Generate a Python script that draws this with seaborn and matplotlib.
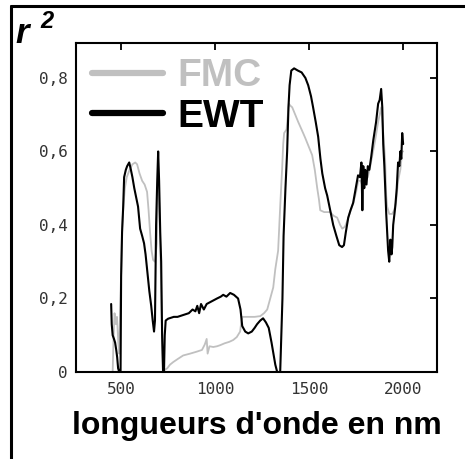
import matplotlib
matplotlib.use("Agg")
import matplotlib.pyplot as plt
from matplotlib.lines import Line2D
import seaborn as sns

# wavelength (nm) and r2 for each series
ewt_nm = [447, 450, 455, 462, 468, 474, 479, 484, 490, 497, 500, 505, 511, 516, 525,
          532, 543, 552, 560, 570, 578, 590, 601, 612, 622, 630, 640, 650, 660, 668,
          675, 680, 686, 692, 697, 702, 708, 713, 718, 723, 728, 732, 737, 750, 780,
          800, 830, 860, 880, 895, 905, 915, 925, 940, 955, 973, 990, 1010, 1030, 1043,
          1060, 1080, 1100, 1122, 1135, 1144, 1160, 1176, 1195, 1210, 1223, 1240, 1255,
          1270, 1285, 1300, 1310, 1320, 1330, 1340, 1346, 1352, 1358, 1364, 1374, 1383,
          1390, 1396, 1405, 1420, 1440, 1460, 1480, 1495, 1510, 1521, 1535, 1548, 1560,
          1570, 1585, 1596, 1612, 1628, 1645, 1660, 1675, 1685, 1695, 1708, 1720, 1734,
          1748, 1760, 1770, 1778, 1783, 1788, 1793, 1798, 1805, 1812, 1820, 1830, 1841,
          1856, 1867, 1875, 1883, 1889, 1894, 1900, 1910, 1915, 1920, 1926, 1932, 1938,
          1942, 1947, 1958, 1966, 1973, 1980, 1985, 1990, 1995, 2000]
ewt_r2 = [0.185, 0.13, 0.10, 0.09, 0.08, 0.06, 0.04, 0.01, 0.0, 0.0, 0.26, 0.38, 0.45, 0.53, 0.55,
          0.56, 0.57, 0.55, 0.53, 0.50, 0.48, 0.45, 0.39, 0.37, 0.35, 0.32, 0.27, 0.22, 0.18, 0.14,
          0.11, 0.14, 0.40, 0.52, 0.60, 0.52, 0.38, 0.30, 0.10, 0.0, 0.0, 0.10, 0.14, 0.145, 0.15,
          0.15, 0.155, 0.16, 0.17, 0.165, 0.18, 0.16, 0.185, 0.17, 0.185, 0.19, 0.195, 0.20, 0.205, 0.21,
          0.205, 0.215, 0.21, 0.20, 0.17, 0.125, 0.11, 0.105, 0.11, 0.12, 0.13, 0.14, 0.146,
          0.135, 0.12, 0.08, 0.05, 0.02, 0.0, 0.0, 0.0, 0.10, 0.20, 0.37, 0.50, 0.60,
          0.72, 0.78, 0.82, 0.826, 0.82, 0.815, 0.80, 0.78, 0.75, 0.72, 0.68, 0.64, 0.58,
          0.54, 0.50, 0.48, 0.44, 0.40, 0.37, 0.345, 0.34, 0.345, 0.38, 0.42, 0.44, 0.46,
          0.50, 0.535, 0.53, 0.57, 0.44, 0.56, 0.50, 0.55, 0.51, 0.56, 0.55, 0.585, 0.63,
          0.68, 0.73, 0.74, 0.77, 0.72, 0.62, 0.56, 0.43, 0.38, 0.33, 0.30, 0.36, 0.32,
          0.34, 0.40, 0.45, 0.50, 0.57, 0.56, 0.60, 0.58, 0.65, 0.62]

fmc_nm = [447, 455, 460, 465, 472, 478, 485, 490, 496, 502, 505, 512, 520, 530, 545,
          560, 575, 585, 598, 612, 625, 638, 646, 654, 662, 670, 680, 690, 697, 703,
          710, 718, 723, 730, 745, 760, 777, 800, 830, 867, 900, 930, 945, 955, 960,
          970, 990, 1010, 1027, 1050, 1075, 1096, 1115, 1133, 1140, 1146, 1180, 1210, 1240,
          1260, 1277, 1293, 1309, 1320, 1335, 1346, 1356, 1362, 1367, 1380, 1392, 1399,
          1410, 1426, 1442, 1468, 1479, 1516, 1530, 1543, 1552, 1559, 1580, 1612, 1630,
          1649, 1665, 1676, 1690, 1702, 1718, 1735, 1750, 1761, 1775, 1787, 1800, 1812,
          1825, 1840, 1851, 1867, 1883, 1894, 1904, 1910, 1915, 1926, 1942, 1952, 1962,
          1973, 1985, 1995, 2000]
fmc_r2 = [0.0, 0.0, 0.10, 0.16, 0.13, 0.15, 0.08, 0.05, 0.20, 0.30, 0.39, 0.45, 0.50, 0.53, 0.55,
          0.565, 0.57, 0.565, 0.54, 0.52, 0.51, 0.49, 0.44, 0.38, 0.33, 0.305, 0.30, 0.35, 0.55, 0.45,
          0.30, 0.10, 0.01, 0.005, 0.01, 0.02, 0.027, 0.035, 0.045, 0.05, 0.055, 0.06, 0.075, 0.09, 0.05,
          0.07, 0.068, 0.07, 0.073, 0.078, 0.082, 0.087, 0.095, 0.11, 0.14, 0.15, 0.15, 0.15, 0.152,
          0.16, 0.17, 0.20, 0.23, 0.28, 0.33, 0.45, 0.55, 0.62, 0.65, 0.66, 0.73, 0.725,
          0.72, 0.70, 0.68, 0.65, 0.637, 0.59, 0.55, 0.50, 0.47, 0.44, 0.435, 0.435, 0.425,
          0.42, 0.40, 0.39, 0.395, 0.41, 0.435, 0.46, 0.49, 0.52, 0.52, 0.50, 0.52, 0.53,
          0.56, 0.60, 0.63, 0.68, 0.72, 0.65, 0.58, 0.48, 0.45, 0.43, 0.43, 0.44, 0.46,
          0.52, 0.55, 0.60, 0.60]

x_ticks = [500, 1000, 1500, 2000]
x_tick_labels = ["500", "1000", "1500", "2000"]
y_ticks = [0, 0.2, 0.4, 0.6, 0.8]
y_tick_labels = ["0", "0,2", "0,4", "0,6", "0,8"]
series_names = ["FMC", "EWT"]
series_colors = ["#c0c0c0", "#000000"]

sns.set_theme(style="white")
plt.rcParams["font.family"] = ["Liberation Sans", "DejaVu Sans"]

fig = plt.figure(figsize=(4.65, 4.59), dpi=100)
ax = fig.add_axes([76 / 465, 1 - 372 / 459, 361 / 465, 329 / 459])

sns.lineplot(x=fmc_nm, y=fmc_r2, ax=ax, color=series_colors[0], lw=1.3,
             estimator=None, sort=False)
sns.lineplot(x=ewt_nm, y=ewt_r2, ax=ax, color=series_colors[1], lw=1.5,
             estimator=None, sort=False)

ax.set_xlim(260, 2180)
ax.set_ylim(0, 0.895)
ax.set_xticks(x_ticks)
ax.set_xticklabels(x_tick_labels)
ax.set_yticks(y_ticks)
ax.set_yticklabels(y_tick_labels)
ax.tick_params(direction="in", length=5, width=1.3, top=True, right=True,
               labelsize=11.5, labelcolor="#333333", colors="black")
ax.tick_params(axis="x", pad=7)
ax.tick_params(axis="y", pad=6)
for lab in ax.get_xticklabels() + ax.get_yticklabels():
    lab.set_family("DejaVu Sans Mono")
for sp in ax.spines.values():
    sp.set_linewidth(1.5)
    sp.set_color("black")

ax.set_xlabel("longueurs d'onde en nm", fontsize=23, fontweight="bold",
              color="black", labelpad=10)
ax.set_ylabel("")

# legend with thick handles and coloured labels
handles = [Line2D([], [], color=c, lw=4.5) for c in series_colors]
leg = ax.legend(handles, series_names, loc="upper left", bbox_to_anchor=(0.044, 0.954),
                frameon=False, handlelength=1.83, handletextpad=0.36, labelspacing=0.12,
                borderpad=0, borderaxespad=0, prop={"size": 28, "weight": "bold"})
for txt, c in zip(leg.get_texts(), series_colors):
    txt.set_color(c)

# r^2 label at top left
fig.text(15 / 465, 1 - 43 / 459, "r", fontsize=25, fontweight="bold", fontstyle="italic",
         color="black")
fig.text(40 / 465, 1 - 28 / 459, "2", fontsize=17, fontweight="bold", fontstyle="italic",
         color="black")

# outer frame (top and left edges)
fig.add_artist(Line2D([11 / 465, 11 / 465], [0, 1 - 6 / 459], color="black", lw=2.2))
fig.add_artist(Line2D([11 / 465, 1], [1 - 6 / 459, 1 - 6 / 459], color="black", lw=2.2))

fig.savefig("out.png", dpi=100)
